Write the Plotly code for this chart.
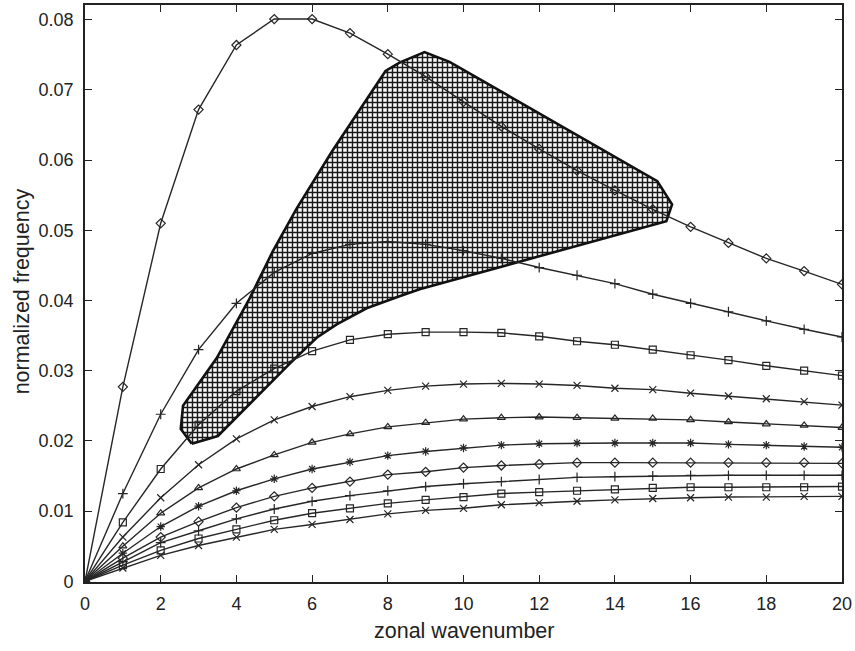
import plotly.graph_objects as go

# ---------------- data ----------------
wavenumber = list(range(0, 21))

curve_1 = [0, 0.0277, 0.0510, 0.0672, 0.0764, 0.0801, 0.0801, 0.0781, 0.0751, 0.0719, 0.0683,
           0.0648, 0.0616, 0.0585, 0.0557, 0.0530, 0.0505, 0.0482, 0.0460, 0.0442, 0.0423]
curve_2 = [0, 0.0125, 0.0238, 0.0330, 0.0396, 0.0440, 0.0467, 0.0480, 0.0484, 0.0480, 0.0471,
           0.0460, 0.0447, 0.0436, 0.0424, 0.0409, 0.0396, 0.0384, 0.0371, 0.0359, 0.0348]
curve_3 = [0, 0.0084, 0.0160, 0.0223, 0.0271, 0.0303, 0.0328, 0.0344, 0.0352, 0.0355, 0.0355,
           0.0354, 0.0349, 0.0342, 0.0337, 0.0330, 0.0322, 0.0315, 0.0307, 0.0300, 0.0293]
curve_4 = [0, 0.0063, 0.0119, 0.0166, 0.0203, 0.0230, 0.0249, 0.0263, 0.0272, 0.0278, 0.0281,
           0.0282, 0.0281, 0.0279, 0.0275, 0.0273, 0.0268, 0.0264, 0.0260, 0.0256, 0.0251]
curve_5 = [0, 0.0050, 0.0097, 0.0133, 0.0160, 0.0180, 0.0198, 0.0210, 0.0220, 0.0226, 0.0231,
           0.0233, 0.0234, 0.0233, 0.0232, 0.0232, 0.0230, 0.0227, 0.0224, 0.0222, 0.0219]
curve_6 = [0, 0.0040, 0.0078, 0.0107, 0.0129, 0.0146, 0.0160, 0.0170, 0.0179, 0.0185, 0.0190,
           0.0194, 0.0196, 0.0197, 0.0197, 0.0197, 0.0197, 0.0195, 0.0194, 0.0192, 0.0191]
curve_7 = [0, 0.0033, 0.0063, 0.0085, 0.0105, 0.0121, 0.0133, 0.0142, 0.0152, 0.0156, 0.0162,
           0.0165, 0.0167, 0.0169, 0.0169, 0.0169, 0.0169, 0.0169, 0.0169, 0.0169, 0.0168]
curve_8 = [0, 0.0028, 0.0055, 0.0072, 0.0089, 0.0103, 0.0114, 0.0122, 0.0129, 0.0135, 0.0139,
           0.0142, 0.0145, 0.0148, 0.0149, 0.0150, 0.0151, 0.0151, 0.0151, 0.0151, 0.0151]
curve_9 = [0, 0.0023, 0.0044, 0.0061, 0.0074, 0.0087, 0.0097, 0.0104, 0.0111, 0.0116, 0.0120,
           0.0125, 0.0127, 0.0129, 0.0131, 0.0133, 0.0134, 0.0134, 0.0134, 0.0134, 0.0135]
curve_10 = [0, 0.0019, 0.0037, 0.0051, 0.0063, 0.0074, 0.0081, 0.0088, 0.0096, 0.0101, 0.0104,
            0.0109, 0.0112, 0.0114, 0.0116, 0.0118, 0.0119, 0.0120, 0.0120, 0.0121, 0.0121]

# hatched region outline (zonal wavenumber, normalized frequency)
region_x = [2.82, 2.53, 2.59, 3.48, 4.35, 4.96, 5.59, 6.52, 7.94, 8.31, 8.97, 9.63,
            15.12, 15.51, 15.36, 8.84, 8.31, 7.44, 6.65, 6.12, 5.41, 4.35, 3.51, 2.82]
region_y = [0.0196, 0.0217, 0.0250, 0.0318, 0.0403, 0.0470, 0.0531, 0.0612, 0.0727, 0.0739,
            0.0754, 0.0740, 0.0570, 0.0537, 0.0513, 0.0416, 0.0406, 0.0389, 0.0366, 0.0347,
            0.0310, 0.0253, 0.0207, 0.0196]

x_ticks = [0, 2, 4, 6, 8, 10, 12, 14, 16, 18, 20]
y_ticks = [0, 0.01, 0.02, 0.03, 0.04, 0.05, 0.06, 0.07, 0.08]
y_tick_text = ["0", "0.01", "0.02", "0.03", "0.04", "0.05", "0.06", "0.07", "0.08"]

curves = [curve_1, curve_2, curve_3, curve_4, curve_5, curve_6, curve_7, curve_8, curve_9, curve_10]
symbols = ["diamond-open", "cross-thin-open", "square-open", "x-thin-open", "triangle-up-open",
           "asterisk-open", "diamond-open", "cross-thin-open", "square-open", "x-thin-open"]

# ---------------- figure ----------------
fig = go.Figure()

fig.add_trace(go.Scatter(
    x=region_x, y=region_y, mode="lines", fill="toself",
    line=dict(color="#111111", width=2.6),
    fillcolor="white",
    fillpattern=dict(shape="+", size=5, solidity=0.5, fgcolor="#1a1a1a", bgcolor="white",
                     fgopacity=1),
    hoverinfo="skip", showlegend=False,
))

LINE = "#262626"
for vals, sym in zip(curves, symbols):
    fig.add_trace(go.Scatter(
        x=wavenumber, y=vals, mode="lines+markers",
        line=dict(color=LINE, width=1.4),
        marker=dict(symbol=sym, size=7, color=LINE, line=dict(color=LINE, width=1.2)),
        showlegend=False,
    ))

font_family = "Liberation Sans, Arial, Helvetica, sans-serif"

fig.update_layout(
    width=855, height=651,
    margin=dict(l=85, r=12, t=3, b=69),
    paper_bgcolor="white", plot_bgcolor="white",
    font=dict(family=font_family, color="#222222"),
    showlegend=False,
    xaxis=dict(
        range=[0, 20], tickvals=x_ticks, ticks="inside", ticklen=7, tickwidth=1.2,
        tickcolor="#222222", showline=True, linecolor="#222222", linewidth=1.6,
        mirror="ticks", showgrid=False, zeroline=False,
        tickfont=dict(size=18, color="#222222"), ticklabelstandoff=5,
    ),
    yaxis=dict(
        range=[-0.0001, 0.0821], tickvals=y_ticks, ticktext=y_tick_text, ticks="inside",
        ticklen=7, tickwidth=1.2, tickcolor="#222222", showline=True, linecolor="#222222",
        linewidth=1.6, mirror="ticks", showgrid=False, zeroline=False,
        tickfont=dict(size=18, color="#222222"), ticklabelstandoff=6,
    ),
    annotations=[
        dict(text="zonal wavenumber", xref="paper", yref="paper", x=0.5, y=-0.0846,
             xanchor="center", yanchor="middle", showarrow=False,
             font=dict(size=21.5, color="#222222", family=font_family)),
        dict(text="normalized frequency", xref="paper", yref="paper", x=-0.083, y=0.504,
             xanchor="center", yanchor="middle", textangle=-90, showarrow=False,
             font=dict(size=21.5, color="#222222", family=font_family)),
    ],
)

fig.write_html("out.html")
